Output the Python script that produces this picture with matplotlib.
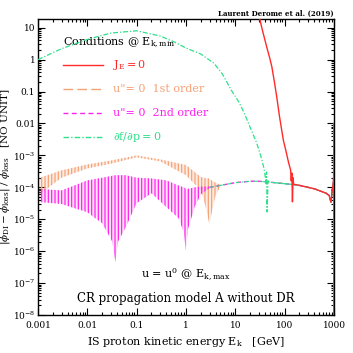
import numpy as np
import matplotlib
matplotlib.use("Agg")
import matplotlib.pyplot as plt
from matplotlib.ticker import LogLocator, FixedLocator, FixedFormatter, NullFormatter

plt.rcParams['font.family'] = ['DejaVu Serif']
plt.rcParams['mathtext.fontset'] = 'dejavuserif'
plt.rcParams['hatch.linewidth'] = 0.9

# ---------------- data ----------------
x_ticks = [1e-3, 1e-2, 1e-1, 1, 10, 100, 1000]
x_ticklabels = ["0.001", "0.01", "0.1", "1", "10", "100", "1000"]
y_ticks = [1e-8, 1e-7, 1e-6, 1e-5, 1e-4, 1e-3, 1e-2, 1e-1, 1, 10]
y_ticklabels = [r"$10^{-8}$", r"$10^{-7}$", r"$10^{-6}$", r"$10^{-5}$", r"$10^{-4}$",
                r"$10^{-3}$", "0.01", "0.1", "1", "10"]

# common high-energy tail shared by all boundary conditions
tail_x = [3, 5, 10, 20, 30, 50, 100, 150, 200, 400, 700, 800, 870, 920, 960, 985, 990, 995, 1000]
tail_y = [1.0e-4, 1.15e-4, 1.4e-4, 1.55e-4, 1.55e-4, 1.45e-4, 1.3e-4, 1.22e-4, 1.15e-4,
          9e-5, 6.5e-5, 5.5e-5, 3.4e-5, 8e-5, 1.2e-4, 2e-4, 1e-2, 1e-9, 1e-2]

# J_E = 0 (red)
red_x = [30, 35, 40, 45, 50, 55, 62, 70, 78, 87, 95, 105, 120, 132, 136, 140, 144, 148, 152]
red_y = [25, 9, 4.0, 2.0, 1.1, 0.6, 0.2, 0.06, 0.018, 6.3e-3, 2.8e-3, 1.5e-3, 6e-4, 3.5e-4,
         1.6e-4, 2.8e-4, 3.5e-5, 2e-4, 1.25e-4]

# df/dp = 0 (green)
green_x = [1e-3, 3e-3, 1e-2, 3e-2, 0.1, 0.3, 0.6, 1, 2, 3.7, 5.5, 8.3, 12, 15, 21, 27, 34,
           38, 40, 42, 43, 44, 46, 50]
green_y = [1.0, 2.2, 4.3, 6.8, 8.0, 5.5, 3.5, 2.3, 1.5, 0.77, 0.35, 0.11, 0.045, 0.022, 6.3e-3,
           2.5e-3, 8e-4, 4e-4, 2.5e-4, 1.3e-4, 3e-4, 1.7e-5, 1.6e-4, 1.45e-4]

# u'' = 0 1st order (orange): envelope of the fast-oscillating band
orange_x = [1e-3, 3e-3, 1e-2, 3e-2, 0.1, 0.3, 1, 2, 2.6, 3, 3.4, 4, 5]
orange_lo = [5.5e-5, 2.0e-4, 3.9e-4, 5.5e-4, 8.7e-4, 6.5e-4, 2.4e-4, 8e-5, 2e-5, 6.5e-6, 2e-5, 5.6e-5, 1.1e-4]
orange_hi = [1.9e-4, 3.4e-4, 5.2e-4, 6.9e-4, 1.0e-3, 7.5e-4, 5.0e-4, 2.1e-4, 1.9e-4, 1.9e-4, 1.6e-4, 1.4e-4, 1.2e-4]

# u'' = 0 2nd order (magenta): envelope of the fast-oscillating band
mag_x = [1e-3, 3e-3, 1e-2, 2e-2, 3.2e-2, 3.7e-2, 4.2e-2, 6e-2, 0.1, 0.2, 0.4, 0.7, 0.9, 1.0, 1.1, 1.5, 2, 3]
mag_lo = [3.5e-5, 3e-5, 1.65e-5, 7.5e-6, 2e-6, 4.6e-7, 2e-6, 5.6e-6, 3.2e-5, 6.5e-5, 2.4e-5, 1.1e-5,
          4e-6, 1e-6, 5e-6, 2.4e-5, 6e-5, 9.5e-5]
mag_hi = [9e-5, 8e-5, 1.65e-4, 2e-4, 2.3e-4, 2.4e-4, 2.4e-4, 2.4e-4, 2e-4, 1.9e-4, 1.65e-4, 1.15e-4,
          1.0e-4, 9e-5, 9e-5, 1e-4, 1.05e-4, 1.05e-4]

legend_labels = [r"$\mathrm{J_E = 0}$", "u\"= 0  1st order", "u\"= 0  2nd order",
                 r"$\partial\mathrm{f}/\partial\mathrm{p} = 0$"]

# ---------------- styles ----------------
c_red = "#ff2a2a"
c_orange = "#f6a277"
c_mag = "#ff22ee"
c_green = "#2ee08a"

fig = plt.figure(figsize=(3.53, 3.53), dpi=100)
ax = fig.add_axes([0.1076, 0.1076, 0.8385, 0.8385])
ax.set_xscale("log")
ax.set_yscale("log")
ax.set_xlim(1e-3, 1e3)
ax.set_ylim(1e-8, 18.7)


def with_tail(xs, ys, start):
    tx = [t for t in tail_x if t > start]
    ty = [tail_y[i] for i, t in enumerate(tail_x) if t > start]
    return list(xs) + tx, list(ys) + ty

# common tail region
tx, ty = with_tail([], [], 2.9)
ax.plot(tx, ty, color=c_mag, lw=1.0, dashes=(3, 2), zorder=3)
ax.plot(tx, ty, color=c_green, lw=0.8, dashes=(4, 1.5, 1, 1.5), zorder=3)

# orange band
ax.fill_between(orange_x, orange_lo, orange_hi, facecolor=c_orange, alpha=0.2, lw=0, zorder=2)
ax.fill_between(orange_x, orange_lo, orange_hi, facecolor="none", edgecolor=c_orange,
                hatch="|||||", lw=0, zorder=2)

# magenta band
ax.fill_between(mag_x, mag_lo, mag_hi, facecolor=c_mag, alpha=0.12, lw=0, zorder=2)
ax.fill_between(mag_x, mag_lo, mag_hi, facecolor="none", edgecolor=c_mag,
                hatch="|||||", lw=0, zorder=2)

# green
gx, gy = with_tail(green_x, green_y, green_x[-1])
ax.plot(gx, gy, color=c_green, lw=0.9, dashes=(4, 1.5, 1, 1.5), zorder=4)

# red
rx, ry = with_tail(red_x, red_y, red_x[-1])
ax.plot(rx, ry, color=c_red, lw=1.0, zorder=5)

# ---------------- axes formatting ----------------
ax.xaxis.set_major_locator(FixedLocator(x_ticks))
ax.xaxis.set_major_formatter(FixedFormatter(x_ticklabels))
ax.yaxis.set_major_locator(FixedLocator(y_ticks))
ax.yaxis.set_major_formatter(FixedFormatter(y_ticklabels))
ax.xaxis.set_minor_locator(LogLocator(base=10, subs=np.arange(2, 10), numticks=20))
ax.yaxis.set_minor_locator(LogLocator(base=10, subs=np.arange(2, 10), numticks=20))
ax.xaxis.set_minor_formatter(NullFormatter())
ax.yaxis.set_minor_formatter(NullFormatter())
ax.tick_params(which="both", direction="in", top=True, right=True, labelsize=6.5, width=0.8)
ax.tick_params(which="major", length=5)
ax.tick_params(which="minor", length=2.5)
ax.tick_params(axis="x", pad=4)
ax.tick_params(axis="y", pad=2)
for s in ax.spines.values():
    s.set_linewidth(1.0)

ax.set_xlabel(r"IS proton kinetic energy E$_{\rm k}$   [GeV]", fontsize=8)
ax.xaxis.set_label_coords(0.5, -0.068)
ax.set_ylabel(r"$|\phi_{\rm DI} - \phi_{\rm loss}|\;/\;\phi_{\rm loss}$   [NO UNIT]", fontsize=7.5)
ax.yaxis.set_label_coords(-0.088, 0.5)

# ---------------- legend (drawn by hand) ----------------
ax.text(0.085, 0.919, r"Conditions @ E$_{\rm k,min}$", transform=ax.transAxes, fontsize=8,
        va="center", ha="left")
rows = [0.845, 0.764, 0.682, 0.601]
styles = [dict(color=c_red, lw=1.0),
          dict(color=c_orange, lw=1.0, dashes=(7, 3)),
          dict(color=c_mag, lw=1.0, dashes=(3.5, 2.5)),
          dict(color=c_green, lw=1.0, dashes=(4, 1.5, 1, 1.5))]
colors = [c_red, c_orange, c_mag, c_green]
for r, st, lab, col in zip(rows, styles, legend_labels, colors):
    ax.plot([0.085, 0.22], [r, r], transform=ax.transAxes, **st)
    ax.text(0.254, r, lab, transform=ax.transAxes, fontsize=8, color=col, va="center", ha="left")

ax.text(0.5, 0.139, r"u = u$^0$ @ E$_{\rm k,max}$", transform=ax.transAxes, fontsize=8,
        ha="center", va="center")
ax.text(0.5, 0.057, "CR propagation model A without DR", transform=ax.transAxes, fontsize=8.5,
        ha="center", va="center")

fig.text(0.946, 0.962, "Laurent Derome et al. (2019)", fontsize=5, ha="right", va="center",
         fontweight="bold")

fig.savefig("out.png", dpi=100)
